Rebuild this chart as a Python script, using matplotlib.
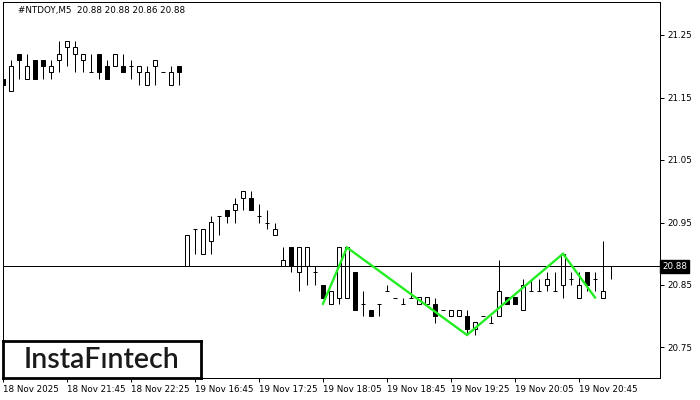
import matplotlib
matplotlib.use("Agg")
import matplotlib.pyplot as plt
from matplotlib.patches import Rectangle

title_text = "#NTDOY,M5  20.88 20.88 20.86 20.88"
logo_text = "InstaF\u0131ntech"

opens = [21.18, 21.16, 21.22, 21.18, 21.21, 21.21, 21.19, 21.21, 21.23, 21.22,
         21.21, 21.19, 21.22, 21.20, 21.20, 21.20, 21.20, 21.19, 21.17, 21.20,
         21.19, 21.17, 21.20,
         20.88, 20.94, 20.90, 20.92, 20.96, 20.97, 20.97, 20.99, 20.99, 20.96,
         20.95, 20.93, 20.88, 20.91, 20.87, 20.88, 20.87, 20.85, 20.82, 20.83,
         20.83, 20.87, 20.82, 20.81, 20.82, 20.84, 20.83, 20.82, 20.83, 20.82,
         20.82, 20.82, 20.81, 20.80, 20.80, 20.80, 20.78, 20.80, 20.79, 20.80,
         20.83, 20.83, 20.81, 20.84, 20.84, 20.85, 20.84, 20.85, 20.86, 20.83,
         20.87, 20.86, 20.83, 20.88]
highs = [21.19, 21.21, 21.22, 21.22, 21.21, 21.21, 21.21, 21.24, 21.24, 21.24,
         21.22, 21.22, 21.22, 21.21, 21.22, 21.22, 21.21, 21.20, 21.20, 21.21,
         21.19, 21.20, 21.20,
         20.93, 20.94, 20.94, 20.96, 20.96, 20.97, 20.99, 21.00, 21.00, 20.98,
         20.97, 20.95, 20.91, 20.91, 20.91, 20.91, 20.88, 20.85, 20.84, 20.91,
         20.91, 20.87, 20.84, 20.81, 20.82, 20.85, 20.83, 20.83, 20.87, 20.83,
         20.83, 20.83, 20.81, 20.81, 20.81, 20.81, 20.79, 20.80, 20.80, 20.89,
         20.83, 20.83, 20.86, 20.86, 20.86, 20.87, 20.87, 20.90, 20.87, 20.87,
         20.87, 20.87, 20.92, 20.88]
lows = [21.17, 21.16, 21.18, 21.18, 21.18, 21.18, 21.18, 21.19, 21.20, 21.19,
        21.19, 21.19, 21.18, 21.18, 21.20, 21.19, 21.18, 21.17, 21.17, 21.17,
        21.19, 21.17, 21.17,
        20.88, 20.90, 20.90, 20.90, 20.93, 20.95, 20.95, 20.97, 20.97, 20.95,
        20.94, 20.93, 20.88, 20.87, 20.84, 20.85, 20.85, 20.83, 20.82, 20.82,
        20.83, 20.81, 20.80, 20.80, 20.80, 20.84, 20.83, 20.82, 20.83, 20.82,
        20.82, 20.79, 20.81, 20.80, 20.80, 20.77, 20.77, 20.80, 20.79, 20.80,
        20.82, 20.82, 20.81, 20.84, 20.84, 20.84, 20.84, 20.83, 20.85, 20.83,
        20.84, 20.84, 20.83, 20.86]
closes = [21.17, 21.20, 21.21, 21.20, 21.18, 21.20, 21.20, 21.22, 21.24, 21.23,
          21.22, 21.19, 21.19, 21.18, 21.22, 21.19, 21.20, 21.20, 21.19, 21.21,
          21.19, 21.19, 21.19,
          20.93, 20.94, 20.94, 20.95, 20.96, 20.96, 20.98, 21.00, 20.97, 20.96,
          20.95, 20.94, 20.89, 20.88, 20.91, 20.91, 20.87, 20.83, 20.84, 20.91,
          20.91, 20.81, 20.82, 20.80, 20.82, 20.84, 20.83, 20.82, 20.83, 20.83,
          20.83, 20.80, 20.81, 20.81, 20.81, 20.78, 20.79, 20.80, 20.79, 20.84,
          20.82, 20.82, 20.85, 20.84, 20.84, 20.86, 20.84, 20.90, 20.86, 20.85,
          20.85, 20.86, 20.84, 20.88]

pattern_idx = [40, 43, 58, 70, 74]
pattern_price = [20.82, 20.91, 20.77, 20.90, 20.83]

current_price = 20.88
y_ticks = [20.75, 20.85, 20.95, 21.05, 21.15, 21.25]
x_tick_idx = [0, 8, 16, 24, 32, 40, 48, 56, 64, 72]
x_tick_labels = ["18 Nov 2025", "18 Nov 21:45", "18 Nov 22:25", "19 Nov 16:45",
                 "19 Nov 17:25", "19 Nov 18:05", "19 Nov 18:45", "19 Nov 19:25",
                 "19 Nov 20:05", "19 Nov 20:45"]

W, H = 700, 400
fig = plt.figure(figsize=(7, 4), dpi=100)
ax = fig.add_axes([3 / W, 22 / H, 657 / W, 376 / H])
ax.set_xlim(0, 657 / 8)
ax.set_ylim(21.25 - 343 / 625, 21.25 + 33 / 625)

px = 0.72  # 1 pixel in points
bw = 0.62
for i, (o, h, l, c) in enumerate(zip(opens, highs, lows, closes)):
    top = max(o, c)
    bot = min(o, c)
    if h > top:
        ax.vlines(i, top, h, color="black", lw=px, zorder=2)
    if l < bot:
        ax.vlines(i, l, bot, color="black", lw=px, zorder=2)
    if abs(o - c) < 1e-9:
        ax.hlines(o, i - bw / 2, i + bw / 2, color="black", lw=px, zorder=3)
    else:
        fc = "white" if c > o else "black"
        ax.add_patch(Rectangle((i - bw / 2, bot), bw, top - bot, facecolor=fc,
                               edgecolor="black", lw=px, zorder=3))

ax.axhline(current_price, color="black", lw=px, zorder=4)
ax.plot(pattern_idx, pattern_price, color="#22ee22", lw=1.7, zorder=5,
        solid_joinstyle="miter")

for s in ax.spines.values():
    s.set_linewidth(px)
    s.set_color("black")

ax.yaxis.tick_right()
ax.set_yticks(y_ticks)
ax.set_yticklabels([f"{v:.2f}" for v in y_ticks])
ax.tick_params(axis="y", direction="out", length=3, width=px, pad=2,
               labelsize=6.3, colors="black")
ax.set_xticks(x_tick_idx)
ax.set_xticklabels(x_tick_labels)
ax.tick_params(axis="x", direction="out", length=3, width=px, pad=2,
               labelsize=6.3, colors="black")
for t in ax.get_xticklabels():
    t.set_horizontalalignment("left")

ax.text(1.0 + 2 / 657, current_price, f"{current_price:.2f}", transform=ax.get_yaxis_transform(),
        ha="left", va="center", fontsize=6.3, color="white", zorder=10,
        bbox=dict(boxstyle="square,pad=0.25", facecolor="black", edgecolor="black"),
        clip_on=False)

fig.text(18 / W, 1 - 10 / H, title_text, ha="left", va="center", fontsize=6.3,
         color="black")

# logo box
logo_ax = fig.add_axes([3 / W, (H - 377.5) / H, 198 / W, 37 / H])
logo_ax.set_xticks([])
logo_ax.set_yticks([])
for s in logo_ax.spines.values():
    s.set_linewidth(2.0)
    s.set_color("black")
logo_ax.set_facecolor("white")
logo_ax.text(0.5, 0.48, logo_text, ha="center", va="center", fontsize=20.5,
             family="Lato", fontweight="semibold", color="#1a1a1a",
             transform=logo_ax.transAxes)

fig.savefig("out.png", dpi=100, facecolor="white")
